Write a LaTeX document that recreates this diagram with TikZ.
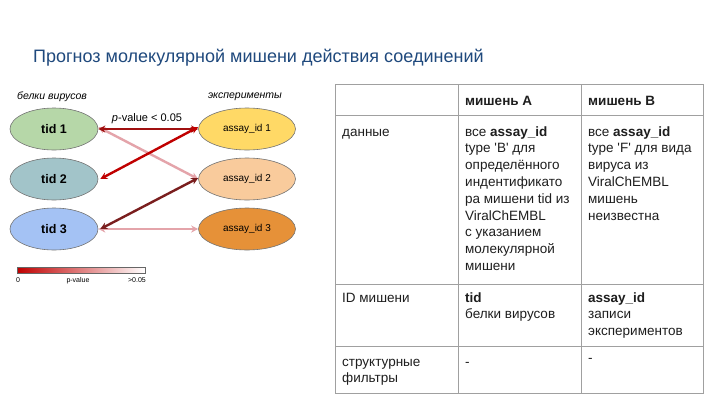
\documentclass[tikz,border=0pt]{standalone}
\usepackage{fontspec}
\setmainfont{Liberation Sans}[Ligatures=TeXOff]
\usetikzlibrary{shapes.geometric,arrows.meta}
\definecolor{titleblue}{RGB}{31,73,125}
\definecolor{tidA}{RGB}{182,215,168}
\definecolor{tidB}{RGB}{162,196,201}
\definecolor{tidC}{RGB}{164,194,244}
\definecolor{asA}{RGB}{255,217,102}
\definecolor{asB}{RGB}{249,203,156}
\definecolor{asC}{RGB}{230,145,56}
\definecolor{darkred}{RGB}{160,16,16}
\definecolor{brightred}{RGB}{192,0,0}
\definecolor{brownred}{RGB}{122,30,30}
\definecolor{pinkline}{RGB}{228,164,170}
\definecolor{gridgray}{RGB}{160,160,160}
\definecolor{celltext}{RGB}{30,30,30}
\newcommand{\celllines}[1]{\begin{tabular}[t]{@{}l@{}}#1\end{tabular}}
\begin{document}
\begin{tikzpicture}[x=1pt,y=-1pt,
  ell/.style={ellipse,draw=black!55,line width=0.6pt,inner sep=0pt},
  tidnode/.style={ell,minimum width=88pt,minimum height=42pt,font=\bfseries\fontsize{12.5}{14}\selectfont},
  asnode/.style={ell,minimum width=97pt,minimum height=42pt,font=\fontsize{10}{12}\selectfont},
  link/.style={line width=2.4pt,{Stealth[length=7pt,width=7pt]}-{Stealth[length=7pt,width=7pt]}},
  grid/.style={draw=gridgray,line width=0.8pt},
  cell/.style={anchor=base west,inner sep=0pt,text=celltext,font=\fontsize{13.5}{16.8}\selectfont},
  hcell/.style={cell,font=\bfseries\fontsize{13.5}{16.8}\selectfont},
  collabel/.style={font=\itshape\fontsize{10.5}{12}\selectfont,inner sep=0pt},
  barlabel/.style={font=\fontsize{7}{8}\selectfont,inner sep=0pt}
]
\useasboundingbox (0,0) rectangle (720,405);
\fill[white] (0,0) rectangle (720,405);

% title
\node[anchor=base west,inner sep=0pt,text=titleblue,font=\fontsize{18}{21}\selectfont] (title) at (33,62) {Прогноз молекулярной мишени действия соединений};

% column labels
\node[collabel] (lblL) at (52,97) {белки вирусов};
\node[collabel] (lblR) at (245,97) {эксперименты};

% ellipses
\node[tidnode,fill=tidA] (t1) at (54,129) {tid 1};
\node[tidnode,fill=tidB] (t2) at (54,179) {tid 2};
\node[tidnode,fill=tidC] (t3) at (54,229) {tid 3};
\node[asnode,fill=asA] (a1) at (247,129) {assay\_id 1};
\node[asnode,fill=asB] (a2) at (247,179) {assay\_id 2};
\node[asnode,fill=asC] (a3) at (247,229) {assay\_id 3};

% links
\draw[link,draw=pinkline] ([yshift=2pt]t1.east) -- (a2.west);
\draw[link,draw=pinkline] (t3.east) -- (a3.west);
\draw[link,draw=darkred] (t1.east) -- (a1.west);
\draw[link,draw=brightred] ([yshift=2pt]a1.west) -- ([xshift=2pt]t2.east);
\draw[link,draw=brownred] ([yshift=1pt]a2.west) -- ([xshift=2pt]t3.east);

\node[font=\fontsize{11}{13}\selectfont,inner sep=0pt] (pv) at (147,119) {\textit{p}-value < 0.05};

% colour bar
\shade[left color=brightred,right color=white] (17,267) rectangle (145,273);
\draw[black!60,line width=0.5pt] (17,267) rectangle (145,273);
\node[barlabel,anchor=base west] (b0) at (16,282) {0};
\node[barlabel,anchor=base] (bp) at (78,282) {p-value};
\node[barlabel,anchor=base east] (b1) at (146,282) {>0.05};

% table
\draw[grid] (335,84) rectangle (703,393);
\draw[grid] (458,84) -- (458,393);
\draw[grid] (581,84) -- (581,393);
\draw[grid] (335,115) -- (703,115);
\draw[grid] (335,284) -- (703,284);
\draw[grid] (335,346) -- (703,346);

\node[hcell] (hA) at (465,105) {мишень А};
\node[hcell] (hB) at (588,105) {мишень В};

\node[cell] (r1c1) at (342,136) {данные};
\node[cell] (r1cA) at (465,136) {\celllines{все \textbf{assay\_id}\\type 'B' для\\определённого\\индентификато\\ра мишени tid из\\ViralChEMBL\\с указанием\\молекулярной\\мишени}};
\node[cell] (r1cB) at (588,136) {\celllines{все \textbf{assay\_id}\\type 'F' для вида\\вируса из\\ViralChEMBL\\мишень\\неизвестна}};

\node[cell] (r2c1) at (342,302) {ID мишени};
\node[cell] (r2cA) at (465,302) {\celllines{\textbf{tid}\\белки вирусов}};
\node[cell] (r2cB) at (588,302) {\celllines{\textbf{assay\_id}\\записи\\экспериментов}};

\node[cell] (r3c1) at (342,366) {\celllines{структурные\\фильтры}};
\node[cell] (r3cA) at (465,366) {-};
\node[cell] (r3cB) at (588,362) {-};
\end{tikzpicture}
\end{document}
